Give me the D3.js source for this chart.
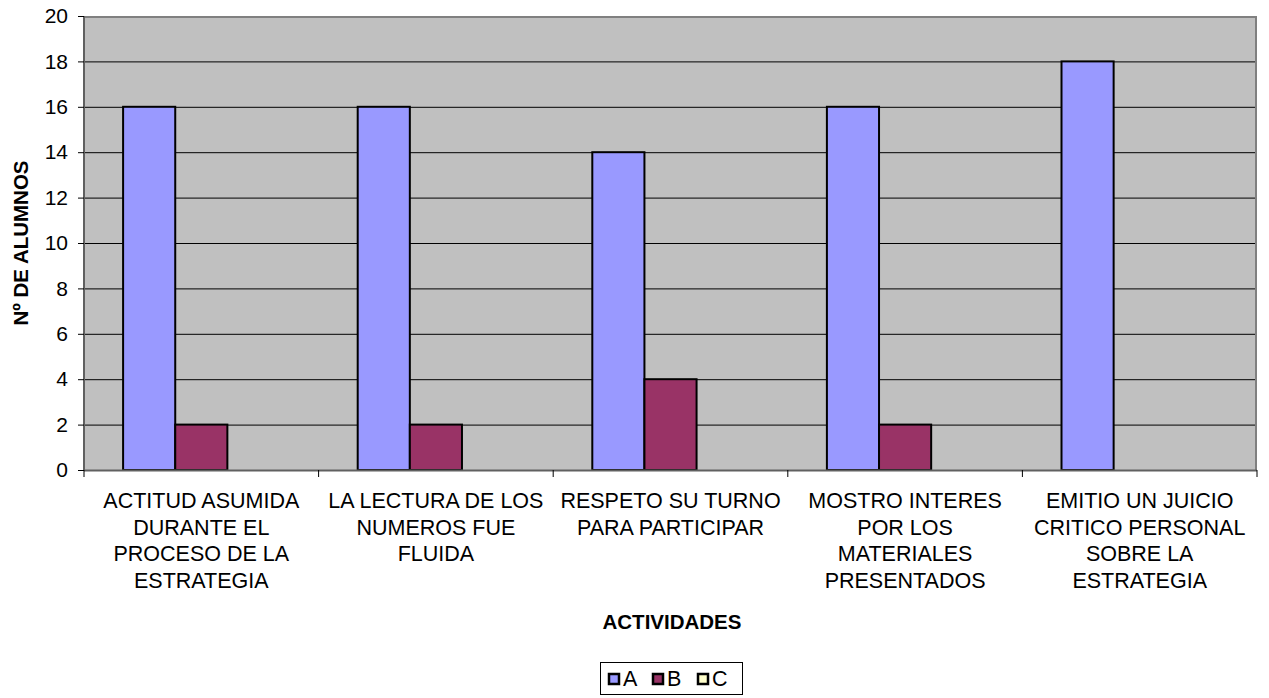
<!DOCTYPE html>
<html><head><meta charset="utf-8">
<script src="https://cdn.jsdelivr.net/npm/d3@7"></script>
<style>body{margin:0;background:#fff}svg{display:block}text{font-family:"Liberation Sans",Arial,sans-serif;fill:#000}</style>
</head><body><svg id="c" width="1269" height="698"></svg>
<script>
const categories = [
  ["ACTITUD ASUMIDA","DURANTE EL","PROCESO DE LA","ESTRATEGIA"],
  ["LA LECTURA DE LOS","NUMEROS FUE","FLUIDA"],
  ["RESPETO SU TURNO","PARA PARTICIPAR"],
  ["MOSTRO INTERES","POR LOS","MATERIALES","PRESENTADOS"],
  ["EMITIO UN JUICIO","CRITICO PERSONAL","SOBRE LA","ESTRATEGIA"]
];
const seriesNames = ["A","B","C"];
const seriesA = [16,16,14,16,18];
const seriesB = [2,2,4,2,0];
const seriesC = [0,0,0,0,0];
const yTicks = [0,2,4,6,8,10,12,14,16,18,20];
const colors = ["#9999FF","#993366","#FFFFCC"];
const yTitle = "Nº DE ALUMNOS";
const xTitle = "ACTIVIDADES";

const svg = d3.select("#c");
const L=84,R=1257,T=16,B=470;
const idx = d3.range(categories.length);
const x = d3.scaleBand().domain(idx).range([L,R]).paddingInner(0).paddingOuter(0);
const bw = x.bandwidth()/4.5;
const xs = d3.scaleBand().domain(seriesNames).range([0.75*bw, 3.75*bw]);
const y = d3.scaleLinear().domain([0,20]).range([B,T]);

svg.append("rect").attr("x",L).attr("y",T).attr("width",R-L).attr("height",B-T).attr("fill","#C0C0C0");
svg.append("g").selectAll("line").data(yTicks.filter(d=>d>0&&d<20)).join("line")
  .attr("x1",L).attr("x2",R).attr("y1",d=>y(d)+0.5).attr("y2",d=>y(d)+0.5).attr("stroke","#000").attr("stroke-width",1);
svg.append("path").attr("d",`M${L},${T+1}H${R-1}V${B}`).attr("fill","none").attr("stroke","#808080").attr("stroke-width",2);

const data = [seriesA,seriesB,seriesC];
const g = svg.append("g");
seriesNames.forEach((s,si)=>{
  g.selectAll(null).data(data[si]).join("rect")
    .attr("x",(d,i)=>x(i)+xs(s)).attr("y",d=>y(d)).attr("width",xs.bandwidth()).attr("height",d=>B-y(d))
    .attr("fill",colors[si]).attr("stroke",d=>d>0?"#000":"none").attr("stroke-width",2);
});

const ya = svg.append("g").attr("transform",`translate(${L},0)`)
  .call(d3.axisLeft(y).tickValues(yTicks).tickSize(6).tickPadding(10));
ya.select(".domain").attr("stroke","#606060").attr("stroke-width",2).attr("d",`M0,${T}V${B}`);
ya.selectAll(".tick line").attr("stroke","#000");
ya.selectAll(".tick text").attr("font-size",21).attr("font-family",null).attr("fill","#000");

const xa = svg.append("g").attr("transform",`translate(0,${B})`);
xa.append("line").attr("x1",L).attr("x2",R).attr("y1",0.5).attr("y2",0.5).attr("stroke","#606060").attr("stroke-width",2);
xa.selectAll("line.t").data(d3.range(categories.length+1)).join("line").attr("class","t")
  .attr("x1",d=>d<categories.length?x(d):R).attr("x2",d=>d<categories.length?x(d):R).attr("y1",0).attr("y2",7).attr("stroke","#000");

const lab = svg.append("g");
categories.forEach((lines,i)=>{
  const t = lab.append("text").attr("text-anchor","middle").attr("font-size",21.5);
  lines.forEach((ln,k)=>t.append("tspan").attr("x",x(i)+x.bandwidth()/2).attr("y",508+k*26.7).text(ln));
});

svg.append("text").attr("transform",`translate(28,${(T+B)/2}) rotate(-90)`).attr("text-anchor","middle")
  .attr("font-size",20.5).attr("font-weight","bold").text(yTitle);
svg.append("text").attr("x",672).attr("y",629).attr("text-anchor","middle")
  .attr("font-size",20.5).attr("font-weight","bold").text(xTitle);

const lg = svg.append("g");
lg.append("rect").attr("x",600.5).attr("y",662.5).attr("width",142).attr("height",32).attr("fill","#fff").attr("stroke","#000");
const lx = [608,652,697];
seriesNames.forEach((s,i)=>{
  lg.append("rect").attr("x",lx[i]+1).attr("y",674).attr("width",10).attr("height",10).attr("fill",colors[i]).attr("stroke","#000").attr("stroke-width",2.5);
  lg.append("text").attr("x",lx[i]+15).attr("y",686).attr("font-size",21.5).text(s);
});
</script></body></html>
